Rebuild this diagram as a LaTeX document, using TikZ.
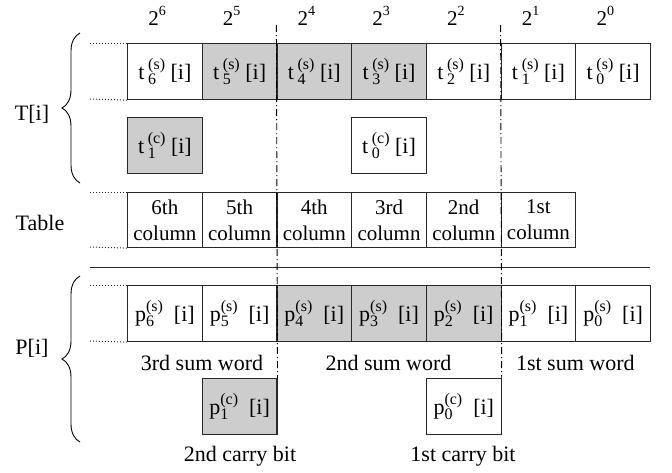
\documentclass[tikz,border=0pt]{standalone}
\usepackage{fontspec}
\setmainfont{Liberation Serif}
\usetikzlibrary{decorations.pathreplacing}
\definecolor{cellgray}{RGB}{205,205,205}
\definecolor{edgec}{RGB}{40,40,40}
\newcommand{\cellsym}[3]{#1\,\rlap{\raisebox{-0.25em}{\fontsize{16}{16}\selectfont #2}}\raisebox{0.45em}{\fontsize{16}{16}\selectfont(#3)}}
\newcommand{\pcellsym}[3]{#1\rlap{\raisebox{-0.25em}{\fontsize{16}{16}\selectfont #2}}\raisebox{0.45em}{\fontsize{16}{16}\selectfont(#3)}}
\tikzset{
  cell/.style={draw=edgec, line width=1.1pt, minimum width=74.7pt, minimum height=56pt, inner sep=0pt, anchor=north west, font=\fontsize{22}{26}\selectfont},
  graycell/.style={cell, fill=cellgray},
  tcell/.style={cell, minimum height=55pt, align=center, font=\fontsize{21}{26}\selectfont},
  lab/.style={font=\fontsize{22}{26}\selectfont, inner sep=0pt},
  dotline/.style={dotted, line width=1pt, edgec},
  dashdot/.style={line width=0.9pt, dash pattern=on 7pt off 3pt on 1pt off 3pt},
  bracestyle/.style={decorate, decoration={brace, amplitude=18pt}, line width=0.9pt},
}
\begin{document}
\begin{tikzpicture}[x=1pt, y=-1pt]
\useasboundingbox (0,0) rectangle (672,472);
% powers
\foreach \p [count=\k from 0] in {6,5,4,3,2,1,0} {
  \node[lab, anchor=base, font=\fontsize{21}{26}\selectfont] (pw\p) at (157+74.71*\k, 25) {2\raisebox{0.47em}{\fontsize{14}{14}\selectfont\p}};
}
% T row
\foreach \i/\f [count=\k from 0] in {6/cell,5/graycell,4/graycell,3/graycell,2/cell,1/cell,0/cell} {
  \node[\f] (ts\i) at (127+74.71*\k, 43) {\cellsym{t}{\i}{s} [i]};
}
\node[graycell] (tc1) at (127, 117) {\cellsym{t}{1}{c} [i]};
\node[cell] (tc0) at (351.1, 117) {\cellsym{t}{0}{c} [i]};
% Table row
\foreach \n [count=\k from 0] in {6th,5th,4th,3rd,2nd,1st} {
  \node[tcell] (col\k) at (127+74.71*\k, 192) {\n\\column};
}
% P row
\foreach \i/\f [count=\k from 0] in {6/cell,5/cell,4/graycell,3/graycell,2/graycell,1/cell,0/cell} {
  \node[\f] (ps\i) at (127+74.71*\k, 285) {\pcellsym{p}{\i}{s}\ \ [i]};
}
\node[graycell] (pc1) at (201.7, 378) {\pcellsym{p}{1}{c}\ \ [i]};
\node[cell] (pc0) at (425.9, 378) {\pcellsym{p}{0}{c}\ \ [i]};
% labels
\node[lab] (sw3) at (202, 363) {3rd sum word};
\node[lab] (sw2) at (388.5, 363) {2nd sum word};
\node[lab] (sw1) at (575.3, 363) {1st sum word};
\node[lab] (cb2) at (240, 456) {2nd carry bit};
\node[lab] (cb1) at (463, 456) {1st carry bit};
\node[lab, anchor=base] (Tl) at (32, 120) {T[i]};
\node[lab, anchor=base] (Tab) at (40, 230) {Table};
\node[lab, anchor=base] (Pl) at (32, 354) {P[i]};
% dotted lines
\coordinate (d1) at (90,43);
\coordinate (d2) at (90,99);
\coordinate (d3) at (90,192);
\coordinate (d4) at (90,247);
\coordinate (d5) at (90,285);
\coordinate (d6) at (90,341);
\draw[dotline] (d1) -- (ts6.north west);
\draw[dotline] (d2) -- (ts6.south west);
\draw[dotline] (d3) -- (col0.north west);
\draw[dotline] (d4) -- (col0.south west);
\draw[dotline] (d5) -- (ps6.north west);
\draw[dotline] (d6) -- (ps6.south west);
% separator
\coordinate (s1) at (90,267);
\coordinate (s2) at (650,267);
\draw[line width=1pt, edgec] (s1) -- (s2);
% dash-dot lines
\coordinate (v1) at (276.4,25);
\coordinate (v2) at (500.6,25);
\draw[dashdot] (v1) -- (pc1.north east);
\draw[dashdot] (v2) -- (pc0.north east);
% braces
\coordinate (b1) at (80,183);
\coordinate (b2) at (80,33);
\coordinate (b3) at (80,442);
\coordinate (b4) at (80,276);
\draw[bracestyle] (b1) -- (b2);
\draw[bracestyle] (b3) -- (b4);
\end{tikzpicture}
\end{document}
